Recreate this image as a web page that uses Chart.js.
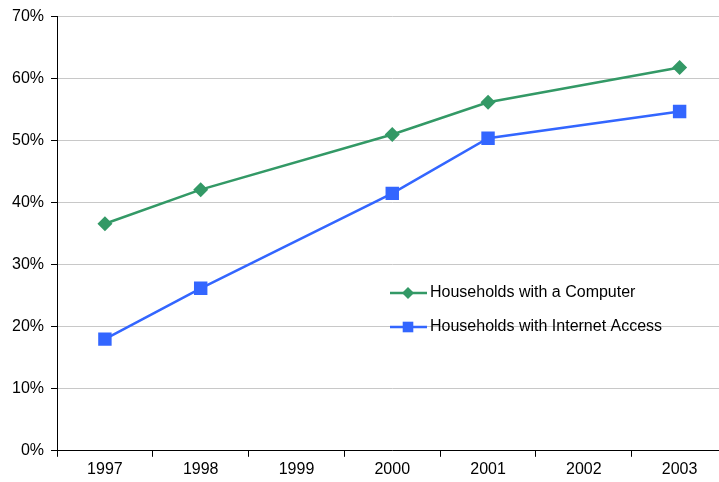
<!DOCTYPE html>
<html>
<head>
<meta charset="utf-8">
<title>Households with a Computer / Internet Access</title>
<script src="https://cdn.jsdelivr.net/npm/chart.js@4/dist/chart.umd.min.js"></script>
<style>
  html, body { margin: 0; padding: 0; background: #fff; }
  /* el lienzo es algo más ancho y el borde derecho queda recortado */
  #wrap { width: 719px; height: 482px; overflow: hidden; }
</style>
</head>
<body>
<div id="wrap"><canvas id="grafica" width="737" height="482"></canvas></div>
<script>
// años (1999 y 2002 sin dato)
const anios = ["1997", "1998", "1999", "2000", "2001", "2002", "2003"];
const conComputadora = [36.6, 42.1, null, 51.0, 56.2, null, 61.8];
const conInternet = [18.0, 26.2, null, 41.5, 50.4, null, 54.7];
const ticksY = [0, 10, 20, 30, 40, 50, 60, 70];

const VERDE = "#339966";
const AZUL = "#3366FF";
const FUENTE = "'Liberation Sans', Arial, sans-serif";

// leyenda dentro del area de la grafica
const leyendaInterna = {
  id: "leyendaInterna",
  afterDraw(chart) {
    const ctx = chart.ctx;
    const x0 = 390, filas = [293, 327];
    ctx.save();
    chart.data.datasets.forEach((ds, i) => {
      const y = filas[i];
      ctx.strokeStyle = ds.borderColor;
      ctx.lineWidth = 2.5;
      ctx.beginPath();
      ctx.moveTo(x0, y);
      ctx.lineTo(x0 + 37, y);
      ctx.stroke();
      ctx.fillStyle = ds.backgroundColor;
      Chart.helpers.drawPoint(ctx, {
        pointStyle: ds.pointStyle,
        radius: ds.pointStyle === "rect" ? 7.5 : 6,
        borderWidth: 0
      }, x0 + 18, y);
      ctx.fillStyle = "#000";
      ctx.font = "16px " + FUENTE;
      ctx.textBaseline = "middle";
      ctx.fillText(ds.label, x0 + 40, y);
    });
    ctx.restore();
  }
};

new Chart(document.getElementById("grafica"), {
  type: "line",
  data: {
    labels: anios,
    datasets: [
      {
        label: "Households with a Computer",
        data: conComputadora,
        borderColor: VERDE,
        backgroundColor: VERDE,
        borderWidth: 2.5,
        pointStyle: "rectRot",
        pointRadius: 7.5,
        pointBorderWidth: 0,
        spanGaps: true
      },
      {
        label: "Households with Internet Access",
        data: conInternet,
        borderColor: AZUL,
        backgroundColor: AZUL,
        borderWidth: 2.5,
        pointStyle: "rect",
        pointRadius: 9.5,
        pointBorderWidth: 0,
        spanGaps: true
      }
    ]
  },
  options: {
    responsive: false,
    animation: false,
    layout: { padding: { top: 9, right: 4, bottom: 0, left: 5 } },
    plugins: {
      legend: { display: false },
      tooltip: { enabled: false }
    },
    scales: {
      x: {
        offset: true,
        border: { color: "#000", width: 1 },
        grid: { offset: true, drawOnChartArea: false, drawTicks: true, tickLength: 6, tickColor: "#000" },
        ticks: { color: "#000", font: { family: FUENTE, size: 16 }, padding: 3, maxRotation: 0 }
      },
      y: {
        min: 0,
        max: 70,
        border: { color: "#000", width: 1 },
        grid: { color: "#c8c8c8", tickColor: "#000", tickLength: 6 },
        afterBuildTicks: (eje) => { eje.ticks = ticksY.map(v => ({ value: v })); },
        ticks: {
          color: "#000",
          font: { family: FUENTE, size: 16 },
          padding: 7,
          callback: (v) => v + "%"
        }
      }
    }
  },
  plugins: [leyendaInterna]
});
</script>
</body>
</html>
